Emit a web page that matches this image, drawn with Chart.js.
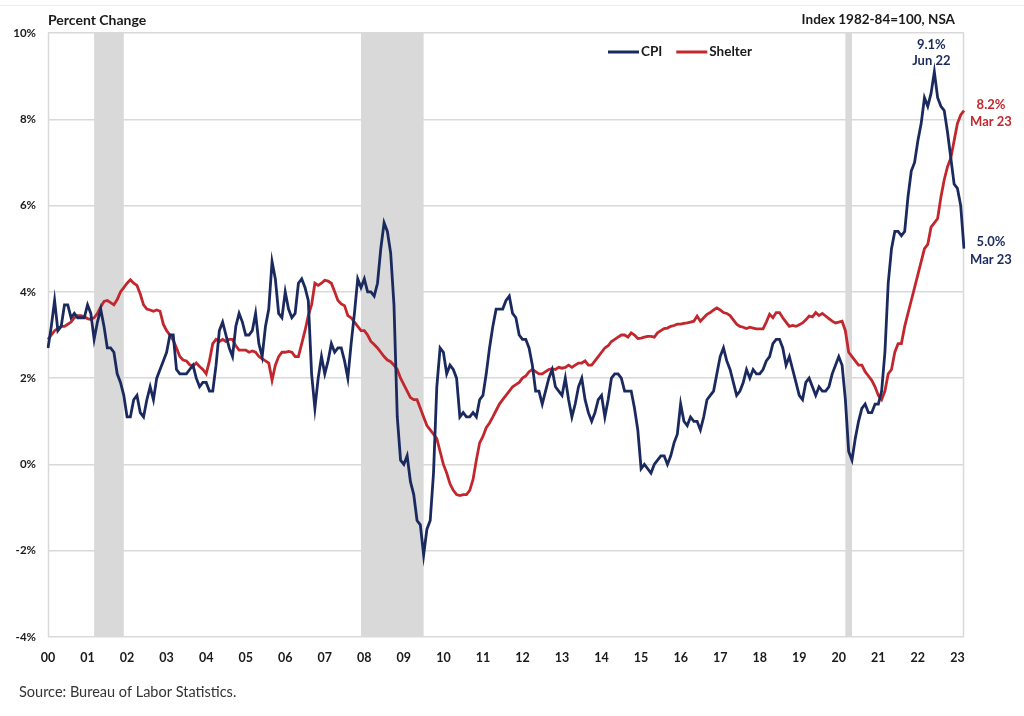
<!DOCTYPE html>
<html>
<head>
<meta charset="utf-8">
<script src="https://cdn.jsdelivr.net/npm/chart.js@4.4.0/dist/chart.umd.min.js"></script>
<style>
  html, body { margin: 0; padding: 0; background: #fff; }
</style>
</head>
<body>
<canvas id="myChart" width="1024" height="716"></canvas>
<script>
// years shown on the x axis (monthly data, Jan 2000 - Mar 2023)
const years = ['00','01','02','03','04','05','06','07','08','09','10','11','12','13','14','15','16','17','18','19','20','21','22','23'];
const monthNames = ['01','02','03','04','05','06','07','08','09','10','11','12'];

let months = [];
years.forEach(y => {
  monthNames.forEach(m => {
    if (y === '23' && m > '03') return;
    months.push('20' + y + '-' + m);
  });
});

// CPI, year over year % change
const cpi = [
  2.7, 3.2, 3.8, 3.1, 3.2, 3.7, 3.7, 3.4, 3.5, 3.4, 3.4, 3.4,
  3.7, 3.5, 2.9, 3.3, 3.6, 3.2, 2.7, 2.7, 2.6, 2.1, 1.9, 1.6,
  1.1, 1.1, 1.5, 1.6, 1.2, 1.1, 1.5, 1.8, 1.5, 2.0, 2.2, 2.4,
  2.6, 3.0, 3.0, 2.2, 2.1, 2.1, 2.1, 2.2, 2.3, 2.0, 1.8, 1.9,
  1.9, 1.7, 1.7, 2.3, 3.1, 3.3, 3.0, 2.7, 2.5, 3.2, 3.5, 3.3,
  3.0, 3.0, 3.1, 3.5, 2.8, 2.5, 3.2, 3.6, 4.7, 4.3, 3.5, 3.4,
  4.0, 3.6, 3.4, 3.5, 4.2, 4.3, 4.1, 3.8, 2.1, 1.3, 2.0, 2.5,
  2.1, 2.4, 2.8, 2.6, 2.7, 2.7, 2.4, 2.0, 2.8, 3.5, 4.3, 4.1,
  4.3, 4.0, 4.0, 3.9, 4.2, 5.0, 5.6, 5.4, 4.9, 3.7, 1.1, 0.1,
  0.0, 0.2, -0.4, -0.7, -1.3, -1.4, -2.1, -1.5, -1.3, -0.2, 1.8, 2.7,
  2.6, 2.1, 2.3, 2.2, 2.0, 1.1, 1.2, 1.1, 1.1, 1.2, 1.1, 1.5,
  1.6, 2.1, 2.7, 3.2, 3.6, 3.6, 3.6, 3.8, 3.9, 3.5, 3.4, 3.0,
  2.9, 2.9, 2.7, 2.3, 1.7, 1.7, 1.4, 1.7, 2.0, 2.2, 1.8, 1.7,
  1.6, 2.0, 1.5, 1.1, 1.4, 1.8, 2.0, 1.5, 1.2, 1.0, 1.2, 1.5,
  1.6, 1.1, 1.5, 2.0, 2.1, 2.1, 2.0, 1.7, 1.7, 1.7, 1.3, 0.8,
  -0.1, 0.0, -0.1, -0.2, 0.0, 0.1, 0.2, 0.2, 0.0, 0.2, 0.5, 0.7,
  1.4, 1.0, 0.9, 1.1, 1.0, 1.0, 0.8, 1.1, 1.5, 1.6, 1.7, 2.1,
  2.5, 2.7, 2.4, 2.2, 1.9, 1.6, 1.7, 1.9, 2.2, 2.0, 2.2, 2.1,
  2.1, 2.2, 2.4, 2.5, 2.8, 2.9, 2.9, 2.7, 2.3, 2.5, 2.2, 1.9,
  1.6, 1.5, 1.9, 2.0, 1.8, 1.6, 1.8, 1.7, 1.7, 1.8, 2.1, 2.3,
  2.5, 2.3, 1.5, 0.3, 0.1, 0.6, 1.0, 1.3, 1.4, 1.2, 1.2, 1.4,
  1.4, 1.7, 2.6, 4.2, 5.0, 5.4, 5.4, 5.3, 5.4, 6.2, 6.8, 7.0,
  7.5, 7.9, 8.5, 8.3, 8.6, 9.1, 8.5, 8.3, 8.2, 7.7, 7.1, 6.5,
  6.4, 6.0, 5.0
];

// Shelter, year over year % change
const shelter = [
  2.9, 3.0, 3.1, 3.15, 3.2, 3.2, 3.25, 3.3, 3.4, 3.45, 3.45, 3.42,
  3.38, 3.36, 3.4, 3.5, 3.65, 3.78, 3.8, 3.75, 3.7, 3.82, 4.0, 4.1,
  4.2, 4.28, 4.2, 4.15, 3.95, 3.7, 3.6, 3.58, 3.55, 3.58, 3.55, 3.25,
  3.1, 3.0, 2.88, 2.7, 2.5, 2.42, 2.4, 2.31, 2.28, 2.35, 2.27, 2.2,
  2.1, 2.4, 2.8, 2.9, 2.85, 2.9, 2.85, 2.9, 2.9, 2.75, 2.65, 2.65,
  2.65, 2.6, 2.63, 2.6, 2.5, 2.45, 2.4, 2.35, 1.95, 2.3, 2.5, 2.6,
  2.6, 2.62, 2.6, 2.5, 2.5, 2.8, 3.1, 3.45, 3.7, 4.2, 4.15, 4.2,
  4.27, 4.25, 4.2, 4.0, 3.8, 3.72, 3.68, 3.45, 3.4, 3.3, 3.2, 3.1,
  3.1, 3.0, 2.85, 2.78, 2.7, 2.6, 2.5, 2.42, 2.38, 2.3, 2.2, 2.0,
  1.85, 1.7, 1.55, 1.5, 1.5, 1.3, 1.1, 0.9, 0.8, 0.7, 0.6, 0.3,
  0.0, -0.2, -0.45, -0.6, -0.7, -0.72, -0.7, -0.7, -0.6, -0.35, 0.1, 0.5,
  0.65, 0.85, 0.96, 1.1, 1.25, 1.4, 1.5, 1.6, 1.7, 1.8, 1.85, 1.9,
  2.0, 2.05, 2.15, 2.2, 2.15, 2.1, 2.1, 2.15, 2.2, 2.22, 2.2, 2.25,
  2.23, 2.25, 2.3, 2.25, 2.3, 2.35, 2.35, 2.4, 2.3, 2.3, 2.4, 2.5,
  2.6, 2.7, 2.75, 2.85, 2.9, 2.95, 3.0, 3.0, 2.95, 3.05, 3.0, 2.92,
  2.93, 2.95, 2.97, 2.97, 2.95, 3.05, 3.1, 3.15, 3.16, 3.2, 3.22, 3.25,
  3.25, 3.27, 3.28, 3.3, 3.32, 3.44, 3.32, 3.4, 3.48, 3.52, 3.58, 3.63,
  3.58, 3.52, 3.5, 3.45, 3.35, 3.25, 3.2, 3.18, 3.15, 3.18, 3.16, 3.14,
  3.14, 3.14, 3.3, 3.48, 3.4, 3.52, 3.52, 3.4, 3.3, 3.2, 3.22, 3.2,
  3.24, 3.28, 3.35, 3.44, 3.42, 3.52, 3.45, 3.5, 3.44, 3.38, 3.32, 3.28,
  3.3, 3.32, 3.1, 2.6, 2.5, 2.4, 2.3, 2.3, 2.15, 2.05, 1.95, 1.8,
  1.6, 1.5, 1.7, 2.1, 2.2, 2.6, 2.8, 2.8, 3.2, 3.5, 3.8, 4.1,
  4.4, 4.7, 5.0, 5.1, 5.5, 5.6, 5.7, 6.2, 6.6, 6.9, 7.1, 7.5,
  7.9, 8.1, 8.2
];

// recession shading (start month, end month)
const recStart = ['2001-03', '2007-12', '2020-03'];
const recEnd = ['2001-12', '2009-07', '2020-05'];

// point labels
const notes = [
  { series: 0, month: '2022-06', lines: ['9.1%', 'Jun 22'] },
  { series: 1, month: '2023-03', lines: ['8.2%', 'Mar 23'] },
  { series: 0, month: '2023-03', lines: ['5.0%', 'Mar 23'] }
];

const navy = '#1b2a5e';
const red = '#c1272d';
const gridCol = '#d9d9d9';
const fontFam = 'Lato, "Open Sans", sans-serif';

const extras = {
  id: 'extras',
  beforeDatasetsDraw(chart) {
    const ctx = chart.ctx;
    const a = chart.chartArea;
    const x = chart.scales.x;
    ctx.save();
    ctx.fillStyle = gridCol;
    recStart.forEach((s, i) => {
      const x0 = x.getPixelForValue(months.indexOf(s));
      const x1 = x.getPixelForValue(months.indexOf(recEnd[i]));
      ctx.fillRect(x0, a.top, x1 - x0, a.bottom - a.top);
    });
    ctx.strokeStyle = gridCol;
    ctx.lineWidth = 1.5;
    ctx.beginPath();
    ctx.moveTo(a.left + 0.5, a.top);
    ctx.lineTo(a.left + 0.5, a.bottom);
    ctx.moveTo(a.right - 0.5, a.top);
    ctx.lineTo(a.right - 0.5, a.bottom);
    ctx.stroke();
    ctx.restore();
  },
  afterDraw(chart) {
    const ctx = chart.ctx;
    ctx.save();

    // faint frame line
    ctx.strokeStyle = '#eeeeee';
    ctx.lineWidth = 1;
    ctx.beginPath();
    ctx.moveTo(0, 5.5); ctx.lineTo(1024, 5.5);
    ctx.stroke();

    // headers
    ctx.fillStyle = '#1a1a1a';
    ctx.textBaseline = 'middle';
    ctx.font = 'bold 14px ' + fontFam;
    ctx.textAlign = 'left';
    ctx.fillText('Percent Change', 48, 20);
    ctx.textAlign = 'right';
    ctx.font = 'bold 13.5px ' + fontFam;
    ctx.fillText('Index 1982-84=100, NSA', 955, 20);

    // source
    ctx.textAlign = 'left';
    ctx.font = '14.5px ' + fontFam;
    ctx.fillStyle = '#333';
    ctx.fillText('Source: Bureau of Labor Statistics.', 19, 692);

    // legend
    let lx = 608;
    const ly = 52;
    ctx.font = 'bold 13.5px ' + fontFam;
    chart.data.datasets.forEach(ds => {
      ctx.strokeStyle = ds.borderColor;
      ctx.lineWidth = 3;
      ctx.beginPath();
      ctx.moveTo(lx, ly);
      ctx.lineTo(lx + 31, ly);
      ctx.stroke();
      ctx.fillStyle = '#1a1a1a';
      ctx.fillText(ds.label, lx + 33, ly);
      lx += 33 + ctx.measureText(ds.label).width + 14;
    });

    // point notes
    const place = [[-3, -27, -11], [27, -6, 11], [27, -7, 11]];
    ctx.textAlign = 'center';
    ctx.font = 'bold 13px ' + fontFam;
    notes.forEach((n, i) => {
      const p = chart.getDatasetMeta(n.series).data[months.indexOf(n.month)];
      ctx.fillStyle = chart.data.datasets[n.series].borderColor;
      ctx.fillText(n.lines[0], p.x + place[i][0], p.y + place[i][1]);
      ctx.fillText(n.lines[1], p.x + place[i][0], p.y + place[i][2]);
    });
    ctx.restore();
  }
};

const ctx1 = document.querySelector('#myChart').getContext('2d');

let myChart = new Chart(ctx1, {
  type: 'line',
  data: {
    labels: months,
    datasets: [{
      label: 'CPI',
      data: cpi,
      borderColor: navy,
      borderWidth: 2.8,
      pointRadius: 0
    }, {
      label: 'Shelter',
      data: shelter,
      borderColor: red,
      borderWidth: 2.8,
      pointRadius: 0
    }]
  },
  options: {
    responsive: false,
    animation: false,
    devicePixelRatio: 1,
    layout: { padding: { top: 33, left: 0, right: 60, bottom: 39 } },
    plugins: {
      legend: { display: false },
      tooltip: { enabled: false }
    },
    scales: {
      x: {
        type: 'category',
        offset: false,
        grid: { display: false, drawTicks: false },
        border: { display: false },
        ticks: {
          autoSkip: false,
          maxRotation: 0,
          minRotation: 0,
          padding: 13,
          color: '#1a1a1a',
          font: { family: fontFam, size: 12.5, weight: 'bold' },
          callback: function (val) {
            const m = months[val];
            if (m.slice(5) !== '01') return null;
            return years[years.indexOf(m.slice(2, 4))];
          }
        },
        afterFit: s => { s.height = 40; }
      },
      y: {
        min: -4,
        max: 10,
        grid: { color: gridCol, lineWidth: 1.5, drawTicks: false },
        border: { display: false },
        ticks: {
          stepSize: 2,
          padding: 12,
          color: '#1a1a1a',
          font: { family: fontFam, size: 11.5, weight: 'bold' },
          callback: v => v + '%'
        },
        afterFit: s => { s.width = 48; }
      }
    }
  },
  plugins: [extras]
});
</script>
</body>
</html>
